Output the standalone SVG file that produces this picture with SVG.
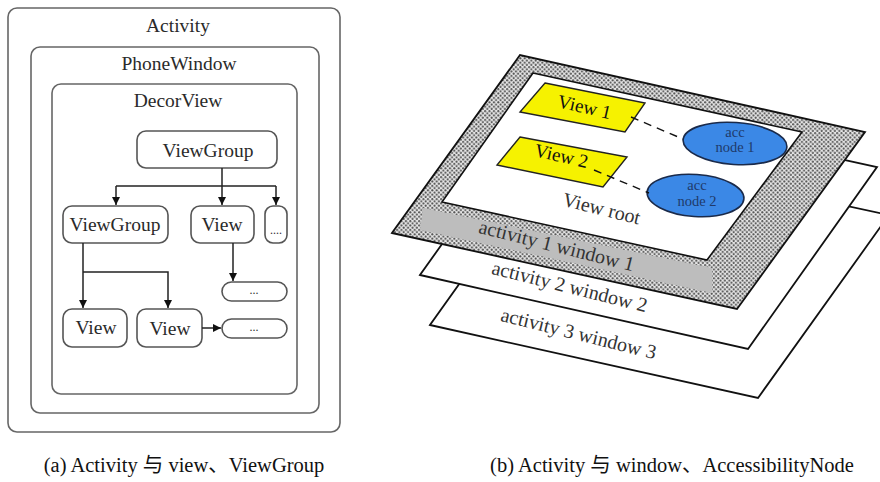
<svg xmlns="http://www.w3.org/2000/svg" width="880" height="482" viewBox="0 0 880 482">
<defs>
<style>
.box{fill:none;stroke:#666;stroke-width:1.6}
.node{fill:#fff;stroke:#555;stroke-width:1.6}
.lbl{font-family:"Liberation Serif","Noto Sans CJK SC",serif;font-size:19.5px;fill:#2a2a2a;text-anchor:middle}
.small{font-family:"Liberation Serif",serif;font-size:12px;fill:#333;text-anchor:middle}
.cap{font-family:"Liberation Serif","Noto Sans CJK SC",serif;font-size:20.5px;fill:#111;text-anchor:middle}
.conn{fill:none;stroke:#222;stroke-width:1.5}
.layer{fill:#fff;stroke:#111;stroke-width:1.8;stroke-linejoin:miter}
.wl{font-family:"Liberation Serif",serif;font-size:20px;fill:#333;text-anchor:middle}
.vt{font-family:"Liberation Serif",serif;font-size:19px;fill:#111;text-anchor:middle}
.vw{fill:#f6f200;stroke:#222;stroke-width:1.4}
.acc{fill:#3b88e6;stroke:#1a2a4a;stroke-width:1.6}
.acct{font-family:"Liberation Serif",serif;font-size:14.5px;fill:#1f3a6a;text-anchor:middle}
.dash{fill:none;stroke:#111;stroke-width:1.4;stroke-dasharray:8 6}
</style>
<marker id="arr" markerUnits="userSpaceOnUse" markerWidth="9" markerHeight="9" refX="8" refY="4" orient="auto">
<path d="M0,0 L8,4 L0,8 z" fill="#111"/>
</marker>
<pattern id="dots" patternUnits="userSpaceOnUse" width="4.4" height="4.4">
<rect width="4.4" height="4.4" fill="#e6e6e6"/>
<circle cx="1.1" cy="1.1" r="1.05" fill="#555"/>
<circle cx="3.3" cy="3.3" r="1.05" fill="#555"/>
</pattern>
</defs>
<rect width="880" height="482" fill="#fff"/>

<!-- Left panel -->
<g id="activity">
<rect class="box" x="8" y="8" width="332" height="424" rx="9"/>
<text class="lbl" x="178" y="32">Activity</text>
</g>
<g id="phonewindow">
<rect class="box" x="31" y="47" width="288" height="366" rx="9"/>
<text class="lbl" x="179" y="70">PhoneWindow</text>
</g>
<g id="decorview">
<rect class="box" x="52" y="84" width="245" height="310" rx="9"/>
<text class="lbl" x="178" y="107">DecorView</text>
</g>
<g id="viewgroup-root">
<rect class="node" x="137" y="131" width="140" height="37" rx="9"/>
<text class="lbl" x="208" y="157">ViewGroup</text>
</g>
<g id="viewgroup-child">
<rect class="node" x="63" y="206" width="105" height="37" rx="9"/>
<text class="lbl" x="115" y="231">ViewGroup</text>
</g>
<g id="view-child">
<rect class="node" x="191" y="206" width="63" height="37" rx="9"/>
<text class="lbl" x="222" y="231">View</text>
</g>
<g id="more-child">
<rect class="node" x="265" y="206" width="22" height="37" rx="8"/>
<text class="small" x="276" y="234">....</text>
</g>
<g id="more-under-view">
<rect class="node" x="222" y="282" width="65" height="19" rx="9.5"/>
<text class="small" x="254" y="294">...</text>
</g>
<g id="view-a">
<rect class="node" x="63" y="309" width="64" height="38" rx="9"/>
<text class="lbl" x="96" y="334">View</text>
</g>
<g id="view-b">
<rect class="node" x="137" y="309" width="65" height="38" rx="9"/>
<text class="lbl" x="170" y="335">View</text>
</g>
<g id="more-after-view">
<rect class="node" x="222" y="319" width="65" height="19" rx="9.5"/>
<text class="small" x="254" y="331">...</text>
</g>
<g id="connectors">
<path class="conn" d="M222,168 V205" marker-end="url(#arr)"/>
<path class="conn" d="M116,186 H276"/>
<path class="conn" d="M116,186 V205" marker-end="url(#arr)"/>
<path class="conn" d="M276,186 V205" marker-end="url(#arr)"/>
<path class="conn" d="M83,243 V308" marker-end="url(#arr)"/>
<path class="conn" d="M83,272 H168 V308" marker-end="url(#arr)"/>
<path class="conn" d="M233,243 V281" marker-end="url(#arr)"/>
<path class="conn" d="M202,328 H221" marker-end="url(#arr)"/>
</g>
<text class="cap" x="184" y="472">(a) Activity 与 view、ViewGroup</text>

<!-- Right panel -->
<g id="window3">
<polygon class="layer" points="430,325 758,398 889,215 559,144"/>
<text class="wl" x="577" y="340" transform="rotate(14 577 340)">activity 3 window 3</text>
</g>
<g id="window2">
<polygon class="layer" points="420,275 748,349 877,167 548,95"/>
<text class="wl" x="568" y="293" transform="rotate(14 568 293)">activity 2 window 2</text>
</g>
<g id="window1">
<polygon points="392,233 737,309 865,132 520,55" fill="url(#dots)" stroke="#111" stroke-width="1.8"/>
<polygon points="423,208 712,268 712,293 420,230" fill="#bdbdbd"/>
<polygon points="533,73 802,132 707,260 442,202" fill="#fff" stroke="#111" stroke-width="1.6"/>
<text class="wl" x="555" y="252" transform="rotate(14 555 252)">activity 1 window 1</text>
<text class="wl" x="600" y="215" transform="rotate(14 600 215)">View root</text>
</g>
<g id="view1">
<polygon class="vw" points="545,83 645,103 625,132 520,112"/>
<text class="vt" x="583" y="113" transform="rotate(13 583 113)">View 1</text>
</g>
<g id="view2">
<polygon class="vw" points="520,137 627,157 603,187 497,165"/>
<text class="vt" x="560" y="162" transform="rotate(13 560 162)">View 2</text>
</g>
<g id="accnode1">
<ellipse class="acc" cx="735" cy="143.5" rx="52" ry="21" transform="rotate(4 735 143.5)"/>
<text class="acct" x="735" y="137">acc</text>
<text class="acct" x="735" y="152">node 1</text>
</g>
<g id="accnode2">
<ellipse class="acc" cx="695.5" cy="195.5" rx="48.5" ry="21" transform="rotate(4 695.5 195.5)"/>
<text class="acct" x="697" y="190">acc</text>
<text class="acct" x="697" y="206">node 2</text>
</g>
<g id="connectors-b">
<path class="dash" d="M631,117 L683,139"/>
<path class="dash" d="M594,170 L649,193"/>
</g>
<text class="cap" x="672" y="472">(b) Activity 与 window、AccessibilityNode</text>
</svg>
